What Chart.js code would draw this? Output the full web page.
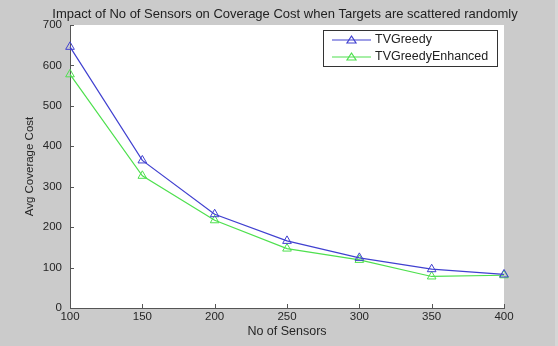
<!DOCTYPE html>
<html>
<head>
<meta charset="utf-8">
<script src="https://cdn.jsdelivr.net/npm/chart.js@4.4.1/dist/chart.umd.min.js"></script>
<style>
  html, body { margin: 0; padding: 0; background: #cbcbcb; }
  canvas { display: block; }
</style>
</head>
<body>
<canvas id="chart" width="558" height="346"></canvas>
<script>
// datos
const sensors = [100, 150, 200, 250, 300, 350, 400];
const tvGreedy = [646, 365, 232, 166, 124, 96, 83];
const tvGreedyEnhanced = [578, 327, 217, 147, 119, 78, 81];
const xTicks = [100, 150, 200, 250, 300, 350, 400];
const yTicks = [0, 100, 200, 300, 400, 500, 600, 700];
const chartTitle = 'Impact of No of Sensors on Coverage Cost when Targets are scattered randomly';

const FONT = 'Liberation Sans, Arial, sans-serif';
const BLUE = '#4040d0';
const GREEN = '#4ee04e';
const TXT = '#262626';

// Fondo gris y area blanca
const bgPlugin = {
    id: 'bg',
    beforeDraw(chart) {
        const { ctx, chartArea: a } = chart;
        ctx.save();
        ctx.fillStyle = '#cbcbcb';
        ctx.fillRect(0, 0, chart.width, chart.height);
        ctx.fillStyle = '#d6d6d6';
        ctx.fillRect(555, 0, 3, chart.height);
        ctx.fillStyle = '#ffffff';
        ctx.fillRect(a.left, a.top, a.right - a.left, a.bottom - a.top);
        ctx.restore();
    }
};

// Titulo, ticks hacia dentro y leyenda dentro del grafico
const axesPlugin = {
    id: 'axesLegend',
    afterDraw(chart) {
        const { ctx, chartArea: a, scales } = chart;
        ctx.save();
        ctx.fillStyle = '#222';
        ctx.font = '13px ' + FONT;
        ctx.textAlign = 'center';
        ctx.textBaseline = 'middle';
        ctx.fillText(chartTitle, 285, 14);

        ctx.strokeStyle = '#555';
        ctx.lineWidth = 1;
        ctx.beginPath();
        xTicks.forEach(v => {
            const x = Math.round(scales.x.getPixelForValue(v)) + 0.5;
            ctx.moveTo(x, a.bottom);
            ctx.lineTo(x, a.bottom - 4);
        });
        yTicks.forEach(v => {
            const y = Math.round(scales.y.getPixelForValue(v)) + 0.5;
            ctx.moveTo(a.left, y);
            ctx.lineTo(a.left + 4, y);
        });
        ctx.stroke();

        // leyenda
        const bx = 323, by = 30, bw = 174, bh = 36;
        ctx.fillStyle = '#fff';
        ctx.fillRect(bx, by, bw, bh);
        ctx.strokeStyle = '#333';
        ctx.strokeRect(bx + 0.5, by + 0.5, bw, bh);
        ctx.textAlign = 'left';
        chart.data.datasets.forEach((ds, i) => {
            const y = by + 10 + i * 17;
            ctx.strokeStyle = ds.borderColor;
            ctx.lineWidth = 1.2;
            ctx.beginPath();
            ctx.moveTo(332, y);
            ctx.lineTo(371, y);
            ctx.stroke();
            ctx.beginPath();
            ctx.moveTo(351.5, y - 4);
            ctx.lineTo(356, y + 3);
            ctx.lineTo(347, y + 3);
            ctx.closePath();
            ctx.stroke();
            ctx.fillStyle = '#222';
            ctx.font = '12.5px ' + FONT;
            ctx.fillText(ds.label, 375, y);
        });
        ctx.restore();
    }
};

new Chart(document.getElementById('chart'), {
    type: 'line',
    data: {
        datasets: [{
            label: 'TVGreedy',
            data: sensors.map((s, i) => ({ x: s, y: tvGreedy[i] })),
            borderColor: BLUE,
            borderWidth: 1.2,
            pointStyle: 'triangle',
            pointRadius: 5,
            pointBorderColor: BLUE,
            pointBackgroundColor: 'rgba(0,0,0,0)',
            pointBorderWidth: 1,
            tension: 0,
            clip: false
        }, {
            label: 'TVGreedyEnhanced',
            data: sensors.map((s, i) => ({ x: s, y: tvGreedyEnhanced[i] })),
            borderColor: GREEN,
            borderWidth: 1.2,
            pointStyle: 'triangle',
            pointRadius: 5,
            pointBorderColor: GREEN,
            pointBackgroundColor: 'rgba(0,0,0,0)',
            pointBorderWidth: 1,
            tension: 0,
            clip: false
        }]
    },
    options: {
        responsive: false,
        animation: false,
        layout: { padding: { top: 25, right: 54, bottom: 0, left: 0 } },
        plugins: {
            legend: { display: false },
            tooltip: { enabled: false },
            title: { display: false }
        },
        scales: {
            x: {
                type: 'linear',
                min: 100,
                max: 400,
                afterBuildTicks(s) { s.ticks = xTicks.map(v => ({ value: v })); },
                afterFit(s) { s.height = 38; },
                ticks: { color: TXT, font: { family: FONT, size: 11.5 }, padding: 2, maxRotation: 0 },
                grid: { display: false, tickLength: 0 },
                border: { display: true, color: '#555' },
                title: {
                    display: true, text: 'No of Sensors', color: TXT,
                    font: { family: FONT, size: 12.5 }, padding: { top: 0, bottom: 7 }
                }
            },
            y: {
                min: 0,
                max: 700,
                afterBuildTicks(s) { s.ticks = yTicks.map(v => ({ value: v })); },
                afterFit(s) { s.width = 70; },
                ticks: { color: TXT, font: { family: FONT, size: 11.5 }, padding: 8 },
                grid: { display: false, tickLength: 0 },
                border: { display: true, color: '#555' },
                title: {
                    display: true, text: 'Avg Coverage Cost', color: TXT,
                    font: { family: FONT, size: 11.5 }, padding: { top: 23, bottom: 0 }
                }
            }
        }
    },
    plugins: [bgPlugin, axesPlugin]
});
</script>
</body>
</html>
